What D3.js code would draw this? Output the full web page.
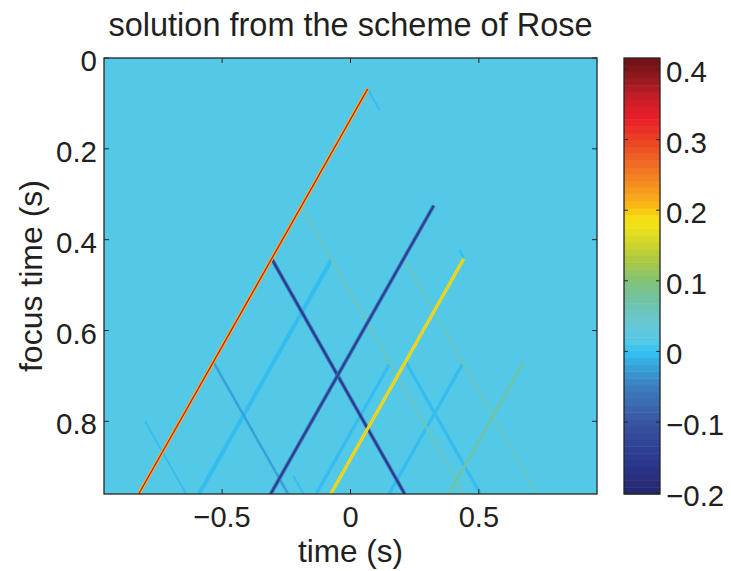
<!DOCTYPE html>
<html>
<head>
<meta charset="utf-8">
<script src="https://cdn.jsdelivr.net/npm/d3@7"></script>
<style>
	body { margin: 0; background: #fff; }
	text { font-family: "Liberation Sans", Arial, sans-serif; fill: #231f20; }
</style>
</head>
<body>
<svg id="chart" width="731" height="571"></svg>
<script>
// axis ticks
const xTicks = [-0.5, 0, 0.5];
const yTicks = [0, 0.2, 0.4, 0.6, 0.8];
const cTicks = [-0.2, -0.1, 0, 0.1, 0.2, 0.3, 0.4];
const timeDomain = [-0.96, 0.96];
const focusDomain = [0, 0.96];
const ampDomain = [-0.202, 0.4156];

// value of the flat part of the image
const backgroundAmp = 0.012;

// wavefronts: start (time, focus), end (time, focus), amplitude, edge amplitude
const fronts = [
	{ name: 'faint1',  t0: -0.80,  f0: 0.80,   t1: -0.64,  f1: 0.96, amp: 0.0 },
	{ name: 'faint2',  t0: -0.222, f0: 0.921,  t1: -0.183, f1: 0.96, amp: 0.0 },
	{ name: 'cyan1',   t0: -0.074, f0: 0.444,  t1: -0.59,  f1: 0.96, amp: 0.0 },
	{ name: 'cyan2',   t0: 0.151,  f0: 0.675,  t1: -0.134, f1: 0.96, amp: 0.0 },
	{ name: 'cyan3',   t0: 0.212,  f0: 0.666,  t1: 0.506,  f1: 0.96, amp: -0.006 },
	{ name: 'cyan4',   t0: 0.435,  f0: 0.675,  t1: 0.15,   f1: 0.96, amp: 0.0 },
	{ name: 'blue1',   t0: -0.534, f0: 0.669,  t1: -0.243, f1: 0.96, amp: -0.028 },
	{ name: 'teal1',   t0: -0.1915,f0: 0.3265, t1: 0.442,  f1: 0.96, amp: 0.05 },
	{ name: 'teal2',   t0: 0.2075, f0: 0.4415, t1: 0.726,  f1: 0.96, amp: 0.05 },
	{ name: 'green1',  t0: 0.672,  f0: 0.671,  t1: 0.383,  f1: 0.96, amp: 0.075 },
	{ name: 'tick1',   t0: 0.067,  f0: 0.068,  t1: 0.113,  f1: 0.114, amp: 0.0 },
	{ name: 'tick2',   t0: 0.424,  f0: 0.422,  t1: 0.441,  f1: 0.442, amp: 0.0 },
	{ name: 'dark1',   t0: -0.307, f0: 0.442,  t1: 0.211,  f1: 0.96, amp: -0.16, edge: -0.06 },
	{ name: 'dark2',   t0: 0.324,  f0: 0.325,  t1: -0.311, f1: 0.96, amp: -0.15, edge: -0.06 },
	{ name: 'yellow',  t0: 0.441,  f0: 0.442,  t1: -0.077, f1: 0.96, amp: 0.2,  edge: 0.185 },
	{ name: 'direct',  t0: 0.067,  f0: 0.068,  t1: -0.825, f1: 0.96, amp: 0.35, edge: 0.205 },
];

// colour map stops (value, colour)
const mapValues = [-0.202, -0.15, -0.10, -0.05, -0.02, 0.0, 0.014, 0.042, 0.07, 0.10, 0.127, 0.156, 0.184, 0.207, 0.231, 0.264, 0.30, 0.33, 0.36, 0.385, 0.4156];
const mapColors = ['#23266f', '#2d3a91', '#3755a0', '#3c7dbe', '#37a5dc', '#32c3f5', '#52c8e8', '#69c8d2', '#6ec3aa', '#82c378', '#aac846', '#d2d728', '#f5e614', '#fab914', '#f5961e', '#f06e23', '#eb4123', '#eb1e28', '#c81e28', '#961a1e', '#6e1216'];

// line widths in pixels (core, edge)
const widths = {
	faint1: [1.8], faint2: [1.8], cyan1: [4], cyan2: [3.2], cyan3: [3.2], cyan4: [3.2],
	blue1: [2.5], teal1: [2.4], teal2: [2.4], green1: [2.6], tick1: [2], tick2: [2],
	dark1: [1.8, 3.8], dark2: [1.8, 3.8], yellow: [1.2, 3.2], direct: [1.4, 3.4],
};

const svg = d3.select('#chart');
const plot = { left: 104, right: 597, top: 58, bottom: 494 };
const bar = { left: 624, right: 660 };

const x = d3.scaleLinear().domain(timeDomain).range([plot.left, plot.right]);
const y = d3.scaleLinear().domain(focusDomain).range([plot.top, plot.bottom]);
const cy = d3.scaleLinear().domain(ampDomain).range([plot.bottom, plot.top]);

const smooth = d3.scaleLinear().domain(mapValues).range(mapColors).interpolate(d3.interpolateRgb).clamp(true);
const nLevels = 64;
const levelStep = (ampDomain[1] - ampDomain[0]) / nLevels;
const levels = d3.range(nLevels).map(i => ampDomain[0] + (i + 0.5) * levelStep);
const color = d3.scaleQuantize().domain(ampDomain).range(levels.map(v => smooth(v)));

// clip
svg.append('clipPath').attr('id', 'clip')
	.append('rect')
	.attr('x', plot.left).attr('y', plot.top)
	.attr('width', plot.right - plot.left).attr('height', plot.bottom - plot.top);

const img = svg.append('g').attr('clip-path', 'url(#clip)');
img.append('rect')
	.attr('x', x(timeDomain[0])).attr('y', y(focusDomain[0]))
	.attr('width', x(timeDomain[1]) - x(timeDomain[0]))
	.attr('height', y(focusDomain[1]) - y(focusDomain[0]))
	.attr('fill', color(backgroundAmp));

const line = d3.line().x(d => x(d[0])).y(d => y(d[1]));
const pts = d => [[d.t0, d.f0], [d.t1, d.f1]];

fronts.forEach(d => {
	const w = widths[d.name];
	if (d.edge !== undefined) {
		img.append('path')
			.attr('d', line(pts(d)))
			.attr('stroke', color(d.edge))
			.attr('stroke-width', w[1])
			.attr('fill', 'none');
	}
	img.append('path')
		.attr('d', line(pts(d)))
		.attr('stroke', color(d.amp))
		.attr('stroke-width', w[0])
		.attr('fill', 'none');
});

// axes frame and inside ticks
const axisColor = '#262626';
const tickLen = 5;
const frame = svg.append('g');
frame.append('rect')
	.attr('x', plot.left).attr('y', plot.top)
	.attr('width', plot.right - plot.left).attr('height', plot.bottom - plot.top)
	.attr('fill', 'none').attr('stroke', axisColor).attr('stroke-width', 1.3);

frame.selectAll('line.xt').data(xTicks.flatMap(t => [[t, plot.bottom, -tickLen], [t, plot.top, tickLen]]))
	.join('line')
	.attr('x1', d => x(d[0])).attr('x2', d => x(d[0]))
	.attr('y1', d => d[1]).attr('y2', d => d[1] + d[2])
	.attr('stroke', axisColor).attr('stroke-width', 1);

frame.selectAll('line.yt').data(yTicks.flatMap(t => [[t, plot.left, tickLen], [t, plot.right, -tickLen]]))
	.join('line')
	.attr('y1', d => y(d[0])).attr('y2', d => y(d[0]))
	.attr('x1', d => d[1]).attr('x2', d => d[1] + d[2])
	.attr('stroke', axisColor).attr('stroke-width', 1);

const fmt = d3.format('');
const tickFont = 29.5;
const labelFont = 31.5;

svg.selectAll('text.xlab').data(xTicks).join('text')
	.attr('class', 'xlab')
	.attr('x', d => x(d)).attr('y', 527)
	.attr('text-anchor', 'middle')
	.style('font-size', '29px')
	.text(d => fmt(d));

svg.selectAll('text.ylab').data(yTicks).join('text')
	.attr('class', 'ylab')
	.attr('x', 97).attr('y', d => y(d) + 13)
	.attr('text-anchor', 'end')
	.style('font-size', tickFont + 'px')
	.text(d => fmt(d));

svg.append('text')
	.attr('x', (plot.left + plot.right) / 2).attr('y', 562)
	.attr('text-anchor', 'middle')
	.style('font-size', labelFont + 'px')
	.text('time (s)');

svg.append('text')
	.attr('transform', `translate(42,${(plot.top + plot.bottom) / 2})rotate(-90)`)
	.attr('text-anchor', 'middle')
	.style('font-size', '32px')
	.text('focus time (s)');

svg.append('text')
	.attr('x', (plot.left + plot.right) / 2).attr('y', 36)
	.attr('text-anchor', 'middle')
	.style('font-size', '32.5px')
	.text('solution from the scheme of Rose');

// colour bar
const cb = svg.append('g');
cb.selectAll('rect.lv').data(levels).join('rect')
	.attr('class', 'lv')
	.attr('x', bar.left)
	.attr('width', bar.right - bar.left)
	.attr('y', d => cy(d + levelStep / 2))
	.attr('height', d => cy(d - levelStep / 2) - cy(d + levelStep / 2) + 0.5)
	.attr('fill', d => color(d));

cb.append('rect')
	.attr('x', bar.left).attr('y', plot.top)
	.attr('width', bar.right - bar.left).attr('height', plot.bottom - plot.top)
	.attr('fill', 'none').attr('stroke', axisColor).attr('stroke-width', 1.3);

cb.selectAll('line.ct').data(cTicks.flatMap(t => [[t, bar.left, 4], [t, bar.right, -4]]))
	.join('line')
	.attr('y1', d => cy(d[0])).attr('y2', d => cy(d[0]))
	.attr('x1', d => d[1]).attr('x2', d => d[1] + d[2])
	.attr('stroke', axisColor).attr('stroke-width', 1);

cb.selectAll('text.cl').data(cTicks).join('text')
	.attr('class', 'cl')
	.attr('x', bar.right + 6).attr('y', d => cy(d) + 13)
	.style('font-size', tickFont + 'px')
	.text(d => fmt(d));
</script>
</body>
</html>
